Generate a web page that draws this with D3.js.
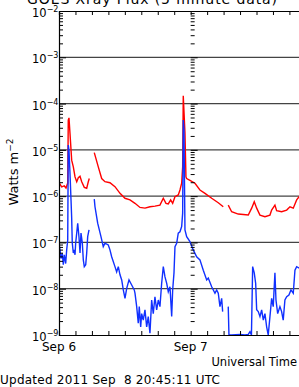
<!DOCTYPE html>
<html>
<head>
<meta charset="utf-8">
<script src="https://cdn.jsdelivr.net/npm/d3@7/dist/d3.min.js"></script>
<style>
body { margin: 0; background: #fff; }
svg { display: block; }
text { font-family: "DejaVu Sans", sans-serif; fill: #000; }
</style>
</head>
<body>
<svg id="chart"></svg>
<script>
// hours after 2011 Sep 6 00:00 UT, null flux = data gap
var redHours = [0, 0.49, 0.97, 1.28, 1.59, 1.69, 1.82, 2.0, 2.31, 2.61, 2.92, 3.23, 3.52, 3.83, 4.14, 4.61, 5.05, 5.34, 5.52, 5.9,
    6.43, 7.16, 7.78, 8.38, 9.29, 10.2, 11.12, 12.03, 12.94, 13.85, 14.76, 15.67, 16.58, 17.49, 18.4, 19.01, 19.5, 19.92, 20.35, 20.72,
    21.14, 21.74, 22.05, 22.36, 22.54, 22.65, 22.96, 23.14, 23.27, 23.87, 24.78, 25.69, 26.61, 27.83, 29.03, 29.94, 30.4,
    30.85, 31.47, 32.67, 34.5, 35.12, 35.59, 36.03, 36.63, 37.54, 38.45, 38.76, 39.36, 39.67, 40.58, 41.5, 42.1, 42.7, 43.32, 43.74, 44.2];
var redFlux = [1.95e-6, 1.58e-6, 1.66e-6, 1.5e-6, 1.92e-6, 4.4e-5, 4.9e-5, 2.3e-5, 6.0e-6, 4.3e-6, 2.6e-6, 2.05e-6, 2.5e-6, 2.7e-6, 2.05e-6, 1.55e-6, 1.48e-6, 2.05e-6, 2.4e-6, null,
    8.7e-6, 4.3e-6, 2.4e-6, 2.05e-6, 1.95e-6, 1.6e-6, 1.15e-6, 9.0e-7, 8.3e-7, 7.0e-7, 5.7e-7, 5.5e-7, 5.9e-7, 6.1e-7, 6.4e-7, 9.0e-7, 7.0e-7, 6.8e-7, 8.3e-7, 7.0e-7,
    9.7e-7, 1.06e-6, 1.36e-6, 1.9e-6, 4.3e-6, 1.48e-4, 2.3e-5, 2.6e-6, 2.4e-6, 2.2e-6, 1.9e-6, 1.36e-6, 1.15e-6, 9.0e-7, 7.2e-7, 5.9e-7, null,
    6.4e-7, 4.6e-7, 4.1e-7, 3.9e-7, 5.5e-7, 7.6e-7, 5.5e-7, 3.9e-7, 3.6e-7, 3.9e-7, 5.0e-7, 6.4e-7, 4.85e-7, 4.6e-7, 5.0e-7, 5.9e-7, 5.5e-7, 8.3e-7, 9.7e-7, 1.0e-6];

var blueHours = [0, 0.18, 0.36, 0.6, 0.78, 0.97, 1.22, 1.4, 1.59, 1.69, 1.82, 2.0, 2.19, 2.31, 2.42, 2.61, 2.79, 2.92, 3.04, 3.23,
    3.41, 3.64, 3.83, 4.01, 4.25, 4.43, 4.61, 4.87, 5.05, 5.23, 5.47, 5.9,
    6.43, 6.56, 7.05, 7.65, 8.07, 8.38, 8.98, 9.29, 9.6, 10.2, 10.51, 10.81, 11.12, 11.43, 11.72, 12.03, 12.34, 12.76,
    13.25, 13.72, 13.85, 14.16, 14.45, 14.63, 14.89, 15.07, 15.36, 15.67, 15.98, 16.27, 16.58, 16.89, 17.18, 17.49, 17.8, 18.1, 18.4, 18.71,
    19.01, 19.32, 19.63, 19.92, 20.23, 20.54, 20.72, 20.96, 21.14, 21.45, 21.74, 22.05, 22.36, 22.54, 22.65, 22.78, 22.96, 23.27, 23.87, 24.47,
    25.09, 25.69, 26.3, 26.92, 27.21, 27.83, 28.43, 28.74, 29.03, 29.34, 29.65, 29.83, 30.4,
    30.85, 30.98, 31.47, 32.98, 33.9, 34.5, 34.81, 35.08, 35.3, 35.59, 35.85, 36.03, 36.32, 36.63, 36.94, 37.24, 37.54, 37.85, 38.14, 38.45,
    38.76, 39.05, 39.36, 39.55, 39.86, 40.27, 40.58, 40.87, 41.18, 41.5, 41.91, 42.28, 42.7, 43.01, 43.32, 43.74, 44.2];
var blueFlux = [9.6e-8, 6.9e-8, 4.5e-8, 5.8e-8, 3.3e-8, 5.4e-8, 3.5e-8, 6.9e-8, 1.13e-7, 1.27e-5, 9.9e-6, 3.2e-6, 8.3e-7, 3.4e-7, 9.7e-8, 5.9e-8, 6.9e-8, 5.4e-8, 9.7e-8, 1.6e-7,
    2.6e-7, 1.33e-7, 5.9e-8, 1.6e-7, 9.7e-8, 4.2e-8, 3.0e-8, 3.3e-8, 5.9e-8, 1.33e-7, 1.86e-7, null,
    8.6e-7, 5.9e-7, 2.6e-7, 1.33e-7, 8.1e-8, 9.6e-8, 8.8e-8, 6.9e-8, 4.9e-8, 3.0e-8, 2.3e-8, 3.0e-8, 2.0e-8, 1.55e-8, 9.4e-9, 6.2e-9, 1.02e-8, 1.55e-8,
    1.2e-8, 9.4e-9, 8.0e-9, 4.1e-9, 1.8e-9, 4.1e-9, 1.5e-9, 2.9e-9, 2.1e-9, 3.5e-9, 1.5e-9, 2.5e-9, 1.09e-9, 5.7e-9, 2.9e-9, 6.7e-9, 3.5e-9, 5.7e-9, 4.1e-9, 1.3e-8,
    3.0e-8, 1.8e-8, 1.3e-8, 8.6e-9, 1.1e-8, 2.5e-9, 9.4e-9, 2.2e-8, 8.1e-8, 9.6e-8, 1.58e-7, 1.7e-7, 2.2e-7, 4.3e-7, 4.4e-5, 2.7e-5, 1.86e-7, 1.33e-7, 1.04e-7, 6.9e-8,
    4.9e-8, 4.2e-8, 2.5e-8, 1.55e-8, 1.7e-8, 1.1e-8, 8.0e-9, 9.4e-9, 8.0e-9, 4.1e-9, 6.2e-9, 3.2e-9, null,
    4.1e-9, 1.0e-9, 1.0e-9, 1.03e-9, 1.0e-9, 1.03e-9, 1.18e-9, 1.0e-9, 3.0e-8, 2.2e-8, 1.3e-8, 3.5e-9, 3.2e-9, 2.5e-9, 3.5e-9, 2.1e-9, 2.9e-9, 1.5e-9, 1.0e-9, 2.5e-9,
    6.2e-9, 4.1e-9, 2.2e-8, 5.7e-9, 2.9e-9, 4.1e-9, 3.2e-9, 2.1e-9, 5.7e-9, 6.7e-9, 7.3e-9, 9.4e-9, 8.0e-9, 2.5e-8, 3.0e-8, 2.8e-8, 3.2e-8];

var decadeExps = [-2, -3, -4, -5, -6, -7, -8, -9];
var dayLabels = ["Sep 6", "Sep 7", "Sep 8"];
var titleText = "GOES Xray Flux (5 minute data)";
var updatedText = "Updated 2011 Sep  8 20:45:11 UTC";

var width = 299,
    height = 387;
var start = Date.UTC(2011, 8, 6);

var svg = d3.select("#chart")
    .attr("width", width)
    .attr("height", height);

var x = d3.scaleUtc()
    .domain([new Date(start), new Date(start + 3 * 864e5)])
    .range([59, 454]);

var y = d3.scaleLog()
    .domain([1e-9, 1e-2])
    .range([335, 11]);

function toPoints(hours, flux) {
    return hours.map(function (h, i) {
        return { t: new Date(start + h * 36e5), v: flux[i] };
    });
}

// minor log ticks
var minors = [];
for (var e = -9; e < -2; e++) {
    for (var k = 2; k < 10; k++) minors.push(k * Math.pow(10, e));
}

// title (cut at top of the window)
svg.append("text")
    .attr("x", 152)
    .attr("y", 4)
    .attr("text-anchor", "middle")
    .attr("textLength", 250)
    .style("font-size", "14px")
    .text(titleText);

// grid lines at decades
svg.append("g")
    .selectAll("line")
    .data(decadeExps.slice(1, -1))
    .enter().append("line")
    .attr("x1", 59)
    .attr("x2", 454)
    .attr("y1", function (d) { return y(Math.pow(10, d)); })
    .attr("y2", function (d) { return y(Math.pow(10, d)); })
    .attr("stroke", "#444")
    .attr("stroke-width", 1.2);

// clip for data
svg.append("clipPath")
    .attr("id", "plotclip")
    .append("rect")
    .attr("x", 59).attr("y", 11)
    .attr("width", 395).attr("height", 325);

var line = d3.line()
    .defined(function (d) { return d.v != null; })
    .x(function (d) { return x(d.t); })
    .y(function (d) { return y(d.v); });

svg.append("path")
    .datum(toPoints(redHours, redFlux))
    .attr("clip-path", "url(#plotclip)")
    .attr("fill", "none")
    .attr("stroke", "#ff0000")
    .attr("stroke-width", 1.4)
    .attr("d", line);

svg.append("path")
    .datum(toPoints(blueHours, blueFlux))
    .attr("clip-path", "url(#plotclip)")
    .attr("fill", "none")
    .attr("stroke", "#1030ff")
    .attr("stroke-width", 1.4)
    .attr("d", line);

// y axes: left edge and one at each day boundary
var dayXs = [x(new Date(start)), x(new Date(start + 864e5)), x(new Date(start + 2 * 864e5))];
dayXs.forEach(function (px, i) {
    var g = svg.append("g").attr("transform", "translate(" + px + ",0)");
    g.append("g")
        .call(d3.axisRight(y).tickValues(minors).tickSize(4).tickFormat(""))
        .call(function (a) { a.select(".domain").remove(); });
    g.append("g")
        .call(d3.axisRight(y).tickValues(decadeExps.map(function (d) { return Math.pow(10, d); })).tickSize(7).tickFormat(""))
        .call(function (a) { if (i > 0) a.select(".domain").remove(); });
});

// x axes top and bottom, 3 hour ticks
svg.append("g")
    .attr("transform", "translate(0,335)")
    .call(d3.axisTop(x).ticks(d3.utcHour.every(3)).tickSize(4).tickFormat(""));
svg.append("g")
    .attr("transform", "translate(0,11)")
    .call(d3.axisBottom(x).ticks(d3.utcHour.every(3)).tickSize(4).tickFormat(""));
svg.selectAll(".domain").attr("stroke-width", 1.2);

// y tick labels
var lab = svg.append("g")
    .selectAll("text")
    .data(decadeExps)
    .enter().append("text")
    .attr("x", 32)
    .attr("y", function (d) { return y(Math.pow(10, d)) + 6; })
    .style("font-size", "11.5px");
lab.append("tspan").text("10");
lab.append("tspan")
    .attr("dy", -5)
    .style("font-size", "8px")
    .text(function (d) { return "\u2212" + (-d); });

// y axis title
var yt = svg.append("text")
    .attr("transform", "translate(18,172) rotate(-90)")
    .attr("text-anchor", "middle")
    .style("font-size", "13px");
yt.append("tspan").text("Watts m");
yt.append("tspan").attr("dy", -5).style("font-size", "9px").text("\u22122");

// day labels
svg.append("g")
    .selectAll("text")
    .data(dayLabels)
    .enter().append("text")
    .attr("x", function (d, i) { return dayXs[i]; })
    .attr("y", 351)
    .attr("text-anchor", "middle")
    .style("font-size", "12px")
    .text(function (d) { return d; });

svg.append("text")
    .attr("x", 297)
    .attr("y", 366)
    .attr("text-anchor", "end")
    .style("font-size", "11.5px")
    .text("Universal Time");

svg.append("text")
    .attr("x", 0)
    .attr("y", 384)
    .attr("xml:space", "preserve")
    .attr("textLength", 220)
    .style("white-space", "pre")
    .style("font-size", "12px")
    .text(updatedText);
</script>
</body>
</html>
